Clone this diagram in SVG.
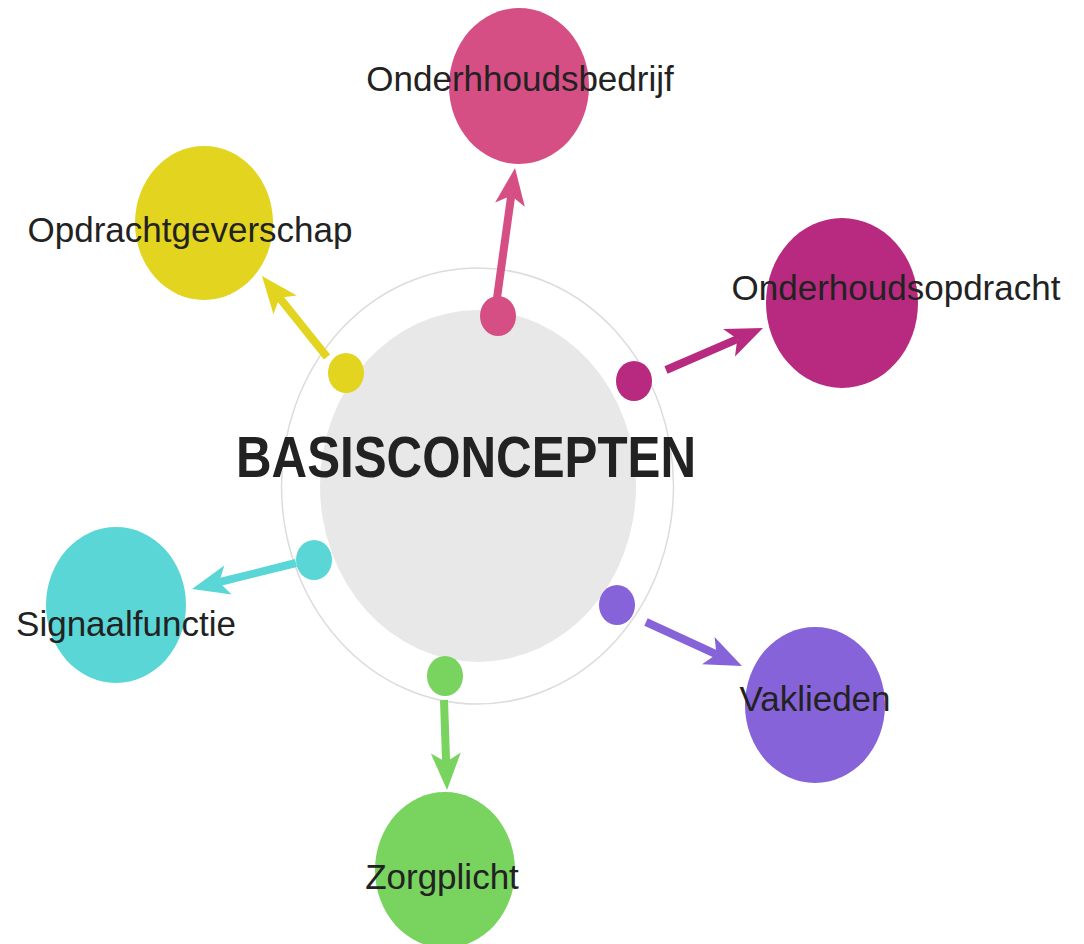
<svg xmlns="http://www.w3.org/2000/svg" width="1084" height="944" viewBox="0 0 1084 944">
<defs>
<style>
.lbl{font-family:"Liberation Sans",Arial,sans-serif;font-size:35px;fill:#222;text-anchor:middle}
.title{font-family:"Liberation Sans",Arial,sans-serif;font-size:57px;font-weight:bold;fill:#222;text-anchor:middle}
.shaft{stroke-width:8;fill:none}
</style>
<marker id="hPink" markerUnits="userSpaceOnUse" markerWidth="40" markerHeight="32" viewBox="0 0 40 32" refX="9" refY="16" orient="auto"><path d="M0,1 L37,16 L0,31 L9,16 Z" fill="#d64f84"/></marker>
<marker id="hMag" markerUnits="userSpaceOnUse" markerWidth="40" markerHeight="32" viewBox="0 0 40 32" refX="9" refY="16" orient="auto"><path d="M0,1 L37,16 L0,31 L9,16 Z" fill="#b82a80"/></marker>
<marker id="hYel" markerUnits="userSpaceOnUse" markerWidth="40" markerHeight="32" viewBox="0 0 40 32" refX="9" refY="16" orient="auto"><path d="M0,1 L37,16 L0,31 L9,16 Z" fill="#e3d41f"/></marker>
<marker id="hCyan" markerUnits="userSpaceOnUse" markerWidth="40" markerHeight="32" viewBox="0 0 40 32" refX="9" refY="16" orient="auto"><path d="M0,1 L37,16 L0,31 L9,16 Z" fill="#5ad6d6"/></marker>
<marker id="hPur" markerUnits="userSpaceOnUse" markerWidth="40" markerHeight="32" viewBox="0 0 40 32" refX="9" refY="16" orient="auto"><path d="M0,1 L37,16 L0,31 L9,16 Z" fill="#8663d8"/></marker>
<marker id="hGrn" markerUnits="userSpaceOnUse" markerWidth="40" markerHeight="32" viewBox="0 0 40 32" refX="9" refY="16" orient="auto"><path d="M0,1 L37,16 L0,31 L9,16 Z" fill="#78d35f"/></marker>
</defs>
<rect width="1084" height="944" fill="#fff"/>
<g id="center">
<ellipse cx="477.5" cy="486" rx="196" ry="218" fill="none" stroke="#dcdcdc" stroke-width="1.5"/>
<ellipse cx="478" cy="486" rx="158" ry="176" fill="#e8e8e8"/>
<text class="title" x="466" y="477" textLength="460" lengthAdjust="spacingAndGlyphs">BASISCONCEPTEN</text>
</g>
<g id="connectors">
<line class="shaft" x1="497" y1="298" x2="511.2" y2="195.7" stroke="#d64f84" marker-end="url(#hPink)"/>
<line class="shaft" x1="666" y1="370" x2="737.3" y2="339.1" stroke="#b82a80" marker-end="url(#hMag)"/>
<line class="shaft" x1="327" y1="357" x2="279.5" y2="297.8" stroke="#e3d41f" marker-end="url(#hYel)"/>
<line class="shaft" x1="296" y1="563" x2="219.2" y2="582.2" stroke="#5ad6d6" marker-end="url(#hCyan)"/>
<line class="shaft" x1="646" y1="622" x2="716.5" y2="654.3" stroke="#8663d8" marker-end="url(#hPur)"/>
<line class="shaft" x1="444" y1="700" x2="446.1" y2="762" stroke="#78d35f" marker-end="url(#hGrn)"/>
</g>
<g id="dots">
<ellipse cx="498" cy="316" rx="18" ry="20" fill="#d64f84"/>
<ellipse cx="634" cy="381" rx="18" ry="20" fill="#b82a80"/>
<ellipse cx="346" cy="373" rx="18" ry="20" fill="#e3d41f"/>
<ellipse cx="314" cy="560" rx="18" ry="20" fill="#5ad6d6"/>
<ellipse cx="617" cy="605" rx="18" ry="20" fill="#8663d8"/>
<ellipse cx="445" cy="676" rx="18" ry="20" fill="#78d35f"/>
</g>
<g id="node-onderhhoudsbedrijf">
<ellipse cx="519" cy="86" rx="70" ry="78" fill="#d64f84"/>
<text class="lbl" x="520" y="91">Onderhhoudsbedrijf</text>
</g>
<g id="node-opdrachtgeverschap">
<ellipse cx="204" cy="223" rx="69" ry="77" fill="#e3d41f"/>
<text class="lbl" x="190" y="242">Opdrachtgeverschap</text>
</g>
<g id="node-onderhoudsopdracht">
<ellipse cx="842" cy="303" rx="76" ry="85" fill="#b82a80"/>
<text class="lbl" x="896" y="300">Onderhoudsopdracht</text>
</g>
<g id="node-signaalfunctie">
<ellipse cx="116" cy="605" rx="70" ry="78" fill="#5ad6d6"/>
<text class="lbl" x="126" y="636">Signaalfunctie</text>
</g>
<g id="node-vaklieden">
<ellipse cx="815" cy="705" rx="70" ry="78" fill="#8663d8"/>
<text class="lbl" x="815" y="711">Vaklieden</text>
</g>
<g id="node-zorgplicht">
<ellipse cx="445" cy="870" rx="70" ry="78" fill="#78d35f"/>
<text class="lbl" x="442" y="889">Zorgplicht</text>
</g>
</svg>
